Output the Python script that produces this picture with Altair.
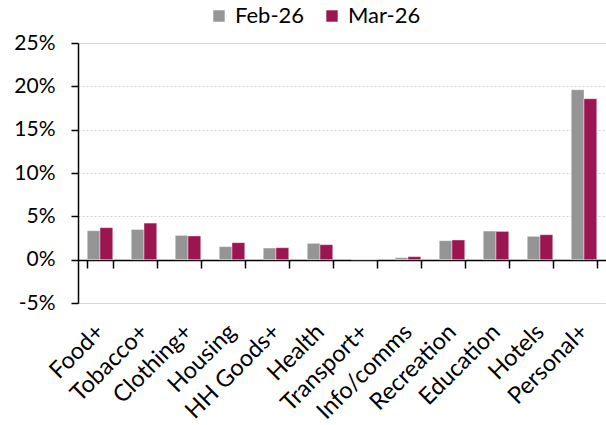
import altair as alt
import pandas as pd

categories = ["Food+", "Tobacco+", "Clothing+", "Housing", "HH Goods+", "Health",
              "Transport+", "Info/comms", "Recreation", "Education", "Hotels", "Personal+"]
feb_26 = [3.34, 3.49, 2.80, 1.50, 1.34, 1.88, 0.0, 0.23, 2.19, 3.30, 2.69, 19.6]
mar_26 = [3.69, 4.22, 2.73, 1.96, 1.38, 1.73, 0.0, 0.35, 2.27, 3.26, 2.88, 18.57]
series = ["Feb-26", "Mar-26"]
colors = ["#959595", "#9B1650"]
y_ticks = [-5, 0, 5, 10, 15, 20, 25]

rows = []
for i, c in enumerate(categories):
    rows.append({"category": c, "series": series[0], "value": feb_26[i]})
    rows.append({"category": c, "series": series[1], "value": mar_26[i]})
df = pd.DataFrame(rows)

FONT = "Lato"

chart = alt.Chart(df).mark_bar(stroke="white", strokeWidth=0.4).encode(
    x=alt.X("category:N", sort=categories, title=None,
            scale=alt.Scale(paddingInner=0.42, paddingOuter=0.21),
            axis=alt.Axis(orient="bottom", offset=-43, labelAngle=-45, labelAlign="right",
                          labelBaseline="middle",
                          labelPadding=60, tickBand="extent", tickSize=8, tickWidth=1.5,
                          tickColor="black", domainColor="black", domainWidth=1.5,
                          labelFont=FONT, labelFontSize=23.5, labelColor="black",
                          grid=False)),
    xOffset=alt.XOffset("series:N", sort=series),
    y=alt.Y("value:Q", title=None,
            scale=alt.Scale(domain=[-5, 25], nice=False, zero=False),
            axis=alt.Axis(values=y_ticks, labelExpr="datum.value + '%'",
                          tickSize=7, tickWidth=1.5, tickColor="black",
                          domainColor="black", domainWidth=1.5,
                          labelPadding=16, labelFont=FONT, labelFontSize=21,
                          labelColor="black",
                          grid=True, gridColor="#d4d4d4", gridDash=[2, 2], gridWidth=1)),
    color=alt.Color("series:N", sort=series,
                    scale=alt.Scale(domain=series, range=colors),
                    legend=alt.Legend(title=None, orient="none", direction="horizontal",
                                      legendX=130, legendY=-38,
                                      symbolType="square", symbolSize=130,
                                      symbolStrokeWidth=0,
                                      labelFont=FONT, labelFontSize=22, labelColor="black",
                                      labelOffset=5, columnPadding=16)),
).properties(
    width=528, height=260,
    padding={"left": 78, "top": 43, "right": 0, "bottom": 122},
    autosize=alt.AutoSizeParams(type="none"),
).configure_view(stroke=None).configure(background="white")

chart.save("out.html", embed_options={"renderer": "svg", "actions": False})
